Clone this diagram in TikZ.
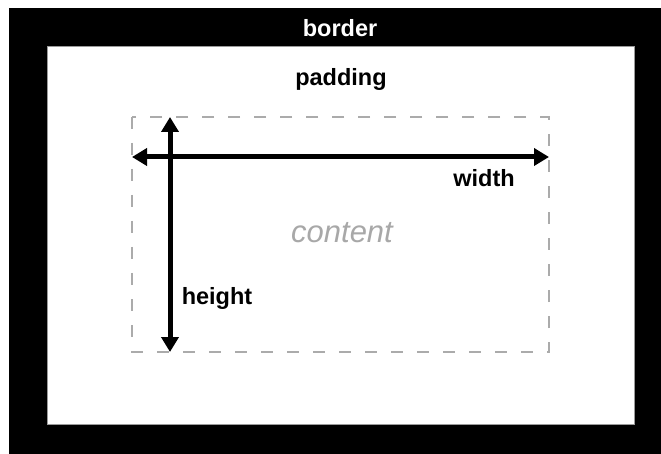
\documentclass[tikz,border=0pt]{standalone}
\usepackage{fontspec}
\setmainfont{Liberation Sans}
\usetikzlibrary{arrows.meta}
\definecolor{dashgray}{HTML}{ABABAB}
\definecolor{contentgray}{HTML}{A8A8A8}
\definecolor{edgegray}{HTML}{9A9A9A}
\tikzset{
  lbl/.style={anchor=base, inner sep=0pt, font=\fontsize{23.5}{26}\selectfont\bfseries},
  dim/.style={line width=5pt, {Triangle[length=15pt,width=17pt]}-{Triangle[length=15pt,width=17pt]}},
  contentbox/.style={draw=dashgray, line width=1.5pt, dash pattern=on 12pt off 14pt}
}
\begin{document}
\begin{tikzpicture}[x=1pt,y=-1pt]
\useasboundingbox (0,0) rectangle (661,454);
\fill[white] (0,0) rectangle (661,454);
\fill[black] (9,8) rectangle (661,454);
\filldraw[fill=white, draw=edgegray, line width=0.8pt] (47,46) rectangle (634,424);
\draw[contentbox] (132,117) rectangle (549,352);
\coordinate (wl) at (132,157);
\coordinate (wr) at (549,157);
\coordinate (ht) at (170,117);
\coordinate (hb) at (170,352);
\draw[dim] (wl) -- (wr);
\draw[dim] (ht) -- (hb);
\node[lbl, text=white] (border) at (340,37) {border};
\node[lbl] (padding) at (341,86) {padding};
\node[lbl] (width) at (484,187) {width};
\node[lbl] (height) at (217,305) {height};
\node[anchor=base, inner sep=0pt, font=\fontsize{31}{34}\selectfont\itshape, text=contentgray] (content) at (342,243) {content};
\end{tikzpicture}
\end{document}
